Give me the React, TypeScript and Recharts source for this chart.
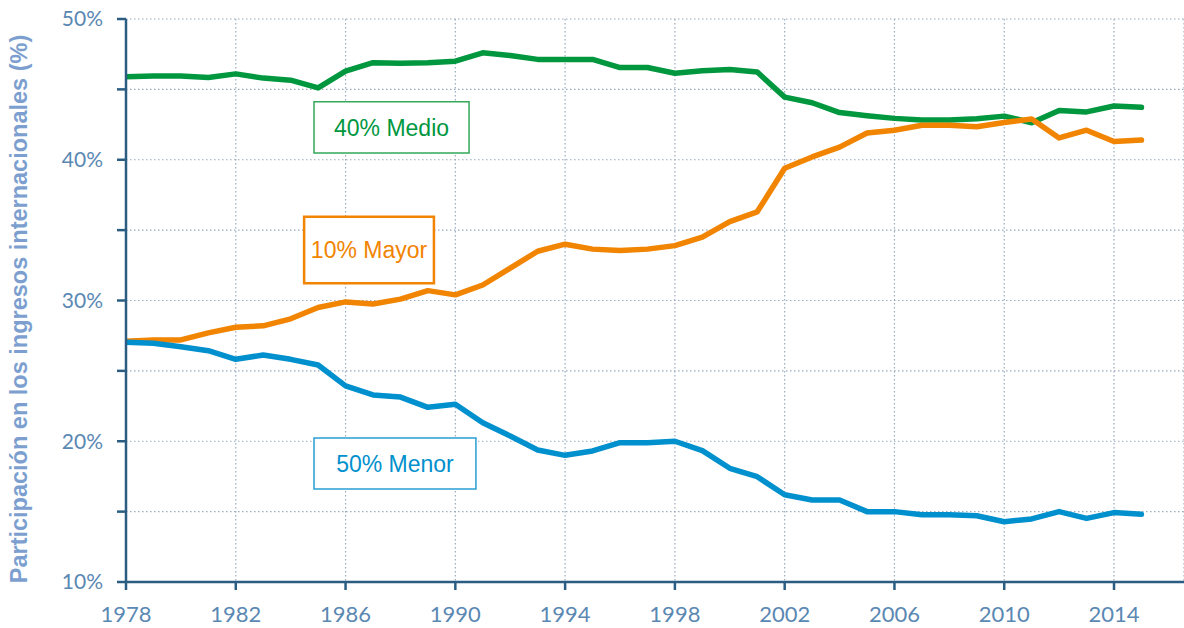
import React from "react";
import {
  LineChart,
  Line,
  XAxis,
  YAxis,
  CartesianGrid,
  ReferenceArea,
} from "recharts";

// share of national income by group, 1978-2015 (%)
const years = [
  1978, 1979, 1980, 1981, 1982, 1983, 1984, 1985, 1986, 1987, 1988, 1989,
  1990, 1991, 1992, 1993, 1994, 1995, 1996, 1997, 1998, 1999, 2000, 2001,
  2002, 2003, 2004, 2005, 2006, 2007, 2008, 2009, 2010, 2011, 2012, 2013,
  2014, 2015,
];

const top10 = [
  27.1, 27.2, 27.2, 27.7, 28.1, 28.2, 28.7, 29.5, 29.9, 29.75, 30.1, 30.7,
  30.4, 31.1, 32.3, 33.5, 34.0, 33.65, 33.55, 33.65, 33.9, 34.5, 35.6, 36.3,
  39.4, 40.2, 40.9, 41.9, 42.1, 42.45, 42.45, 42.35, 42.65, 42.9, 41.55, 42.1,
  41.3, 41.4,
];

const middle40 = [
  45.9, 45.95, 45.95, 45.85, 46.1, 45.8, 45.65, 45.1, 46.3, 46.9, 46.85, 46.9,
  47.0, 47.6, 47.4, 47.13, 47.13, 47.13, 46.55, 46.55, 46.15, 46.33, 46.42,
  46.23, 44.45, 44.05, 43.35, 43.13, 42.94, 42.82, 42.82, 42.92, 43.1, 42.63,
  43.5, 43.4, 43.82, 43.73,
];

const bottom50 = [
  27.03, 26.96, 26.72, 26.43, 25.82, 26.13, 25.82, 25.42, 23.93, 23.29, 23.14,
  22.41, 22.63, 21.32, 20.37, 19.38, 19.0, 19.31, 19.9, 19.9, 20.0, 19.33,
  18.08, 17.48, 16.2, 15.83, 15.83, 15.0, 15.0, 14.78, 14.78, 14.71, 14.28,
  14.48, 15.0, 14.52, 14.93, 14.81,
];

const xTicks = [1978, 1982, 1986, 1990, 1994, 1998, 2002, 2006, 2010, 2014];
const yTicks = [10, 15, 20, 25, 30, 35, 40, 45, 50];

const GREEN = "#00973f";
const ORANGE = "#f18400";
const BLUE = "#0090cd";
const AXIS = "#2b5d83";
const TICK_TEXT = "#5a88b3";

const data = years.map((year, i) => ({
  year,
  top10: top10[i],
  middle40: middle40[i],
  bottom50: bottom50[i],
}));

const labelFont = {
  fontFamily: "'Liberation Sans', Arial, sans-serif",
  fontSize: 23,
};

const AxisTitle = () => (
  <text
    x={27}
    y={309}
    transform="rotate(-90 27 309)"
    textAnchor="middle"
    fill="#7c9fcf"
    fontFamily="'Liberation Sans', Arial, sans-serif"
    fontWeight="bold"
    fontSize={23.5}
  >
    Participación en los ingresos internacionales (%)
  </text>
);

export default function App() {
  return (
    <div style={{ position: "absolute", left: 0, top: 0, background: "#fff" }}>
      <LineChart
        width={1184}
        height={628}
        data={data}
        margin={{ top: 19, right: 0, bottom: 0, left: 0 }}
      >
        <CartesianGrid
          stroke="#98abbd"
          strokeDasharray="1.5 2.5"
          strokeWidth={1.2}
        />
        <XAxis
          dataKey="year"
          type="number"
          domain={[1978, 2016.55]}
          ticks={xTicks}
          allowDataOverflow
          height={46}
          stroke={AXIS}
          strokeWidth={2.5}
          tickSize={8}
          tickMargin={16}
          tick={{ fill: TICK_TEXT, fontFamily: "Lato", fontSize: 22 }}
        />
        <YAxis
          type="number"
          domain={[10, 50]}
          ticks={yTicks}
          width={126}
          stroke={AXIS}
          strokeWidth={2.5}
          tickSize={9}
          tickMargin={14}
          tickFormatter={(v: number) => (v % 10 === 0 ? `${v}%` : "")}
          tick={{ fill: TICK_TEXT, fontFamily: "Lato", fontSize: 21 }}
          label={{ content: () => <AxisTitle /> }}
        />
        <ReferenceArea
          x1={1984.85}
          x2={1990.5}
          y1={40.48}
          y2={44.12}
          fill="#fff"
          fillOpacity={1}
          stroke="#35a85a"
          strokeWidth={1.5}
          label={{ value: "40% Medio", position: "center", fill: GREEN, ...labelFont }}
        />
        <ReferenceArea
          x1={1984.49}
          x2={1989.22}
          y1={31.22}
          y2={35.95}
          fill="#fff"
          fillOpacity={1}
          stroke={ORANGE}
          strokeWidth={2.5}
          label={{ value: "10% Mayor", position: "center", fill: ORANGE, ...labelFont }}
        />
        <ReferenceArea
          x1={1984.85}
          x2={1990.75}
          y1={16.61}
          y2={20.23}
          fill="#fff"
          fillOpacity={1}
          stroke="#2a9dd3"
          strokeWidth={1.5}
          label={{ value: "50% Menor", position: "center", fill: BLUE, ...labelFont }}
        />
        <Line
          dataKey="middle40"
          stroke={GREEN}
          strokeWidth={5.5}
          strokeLinecap="round"
          strokeLinejoin="round"
          dot={false}
          isAnimationActive={false}
        />
        <Line
          dataKey="top10"
          stroke={ORANGE}
          strokeWidth={5.5}
          strokeLinecap="round"
          strokeLinejoin="round"
          dot={false}
          isAnimationActive={false}
        />
        <Line
          dataKey="bottom50"
          stroke={BLUE}
          strokeWidth={5.5}
          strokeLinecap="round"
          strokeLinejoin="round"
          dot={false}
          isAnimationActive={false}
        />
      </LineChart>
    </div>
  );
}
